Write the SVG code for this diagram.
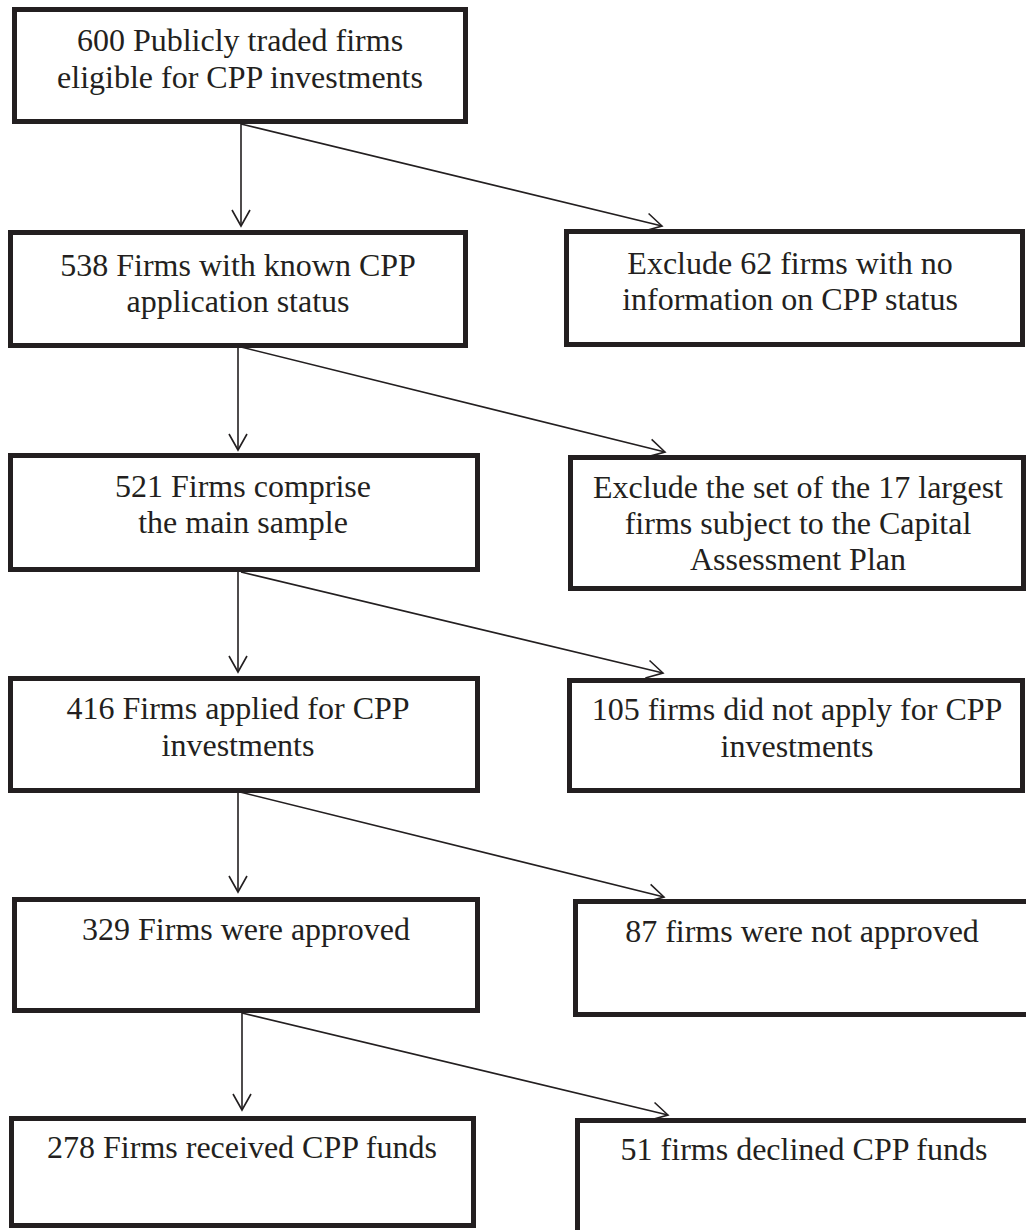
<svg xmlns="http://www.w3.org/2000/svg" width="1026" height="1230" viewBox="0 0 1026 1230">
<style>
.box{fill:#fff;stroke:#231f20;stroke-width:5}
.t{font-family:"Liberation Serif","Times New Roman",serif;font-size:32px;fill:#231f20;text-anchor:middle}
.c{stroke:#231f20;stroke-width:1.6;fill:none;marker-end:url(#ah)}
</style>
<defs>
<marker id="ah" markerUnits="userSpaceOnUse" markerWidth="20" markerHeight="22" viewBox="-18 -11 20 22" refX="0" refY="0" orient="auto">
<path d="M-16,-9 L0,0 L-16,9" fill="none" stroke="#231f20" stroke-width="1.6"/>
</marker>
</defs>
<rect width="1026" height="1230" fill="#fff"/>
<g id="connectors">
<line class="c" x1="241" y1="124" x2="241" y2="226"/>
<line class="c" x1="241" y1="124" x2="662" y2="226"/>
<line class="c" x1="238" y1="348" x2="238" y2="450"/>
<line class="c" x1="241" y1="347" x2="665" y2="452"/>
<line class="c" x1="238" y1="572" x2="238" y2="672"/>
<line class="c" x1="241" y1="572" x2="663" y2="673"/>
<line class="c" x1="238" y1="793" x2="238" y2="892"/>
<line class="c" x1="240" y1="792" x2="664" y2="897"/>
<line class="c" x1="242" y1="1013" x2="242" y2="1110"/>
<line class="c" x1="242" y1="1013" x2="668" y2="1115"/>
</g>
<g id="n600">
<rect class="box" x="14.5" y="9.5" width="451" height="112"/>
<text class="t" x="240" y="51">600 Publicly traded firms</text>
<text class="t" x="240" y="88">eligible for CPP investments</text>
</g>
<g id="n538">
<rect class="box" x="10.5" y="232.5" width="455" height="113"/>
<text class="t" x="238" y="276">538 Firms with known CPP</text>
<text class="t" x="238" y="312">application status</text>
</g>
<g id="x62">
<rect class="box" x="566.5" y="231.5" width="456" height="113"/>
<text class="t" x="790" y="274">Exclude 62 firms with no</text>
<text class="t" x="790" y="310">information on CPP status</text>
</g>
<g id="n521">
<rect class="box" x="10.5" y="455.5" width="467" height="114"/>
<text class="t" x="243" y="497">521 Firms comprise</text>
<text class="t" x="243" y="533">the main sample</text>
</g>
<g id="x17">
<rect class="box" x="570.5" y="457.5" width="453" height="131"/>
<text class="t" x="798" y="498">Exclude the set of the 17 largest</text>
<text class="t" x="798" y="534">firms subject to the Capital</text>
<text class="t" x="798" y="570">Assessment Plan</text>
</g>
<g id="n416">
<rect class="box" x="10.5" y="678.5" width="467" height="112"/>
<text class="t" x="238" y="719">416 Firms applied for CPP</text>
<text class="t" x="238" y="756">investments</text>
</g>
<g id="n105">
<rect class="box" x="569.5" y="680.5" width="453" height="110"/>
<text class="t" x="797" y="720">105 firms did not apply for CPP</text>
<text class="t" x="797" y="757">investments</text>
</g>
<g id="n329">
<rect class="box" x="14.5" y="899.5" width="463" height="111"/>
<text class="t" x="246" y="940">329 Firms were approved</text>
</g>
<g id="n87">
<rect class="box" x="575.5" y="901.5" width="460" height="113"/>
<text class="t" x="802" y="942">87 firms were not approved</text>
</g>
<g id="n278">
<rect class="box" x="11.5" y="1118.5" width="462" height="107"/>
<text class="t" x="242" y="1158">278 Firms received CPP funds</text>
</g>
<g id="n51">
<rect class="box" x="577.5" y="1120.5" width="460" height="150"/>
<text class="t" x="804" y="1160">51 firms declined CPP funds</text>
</g>
</svg>
